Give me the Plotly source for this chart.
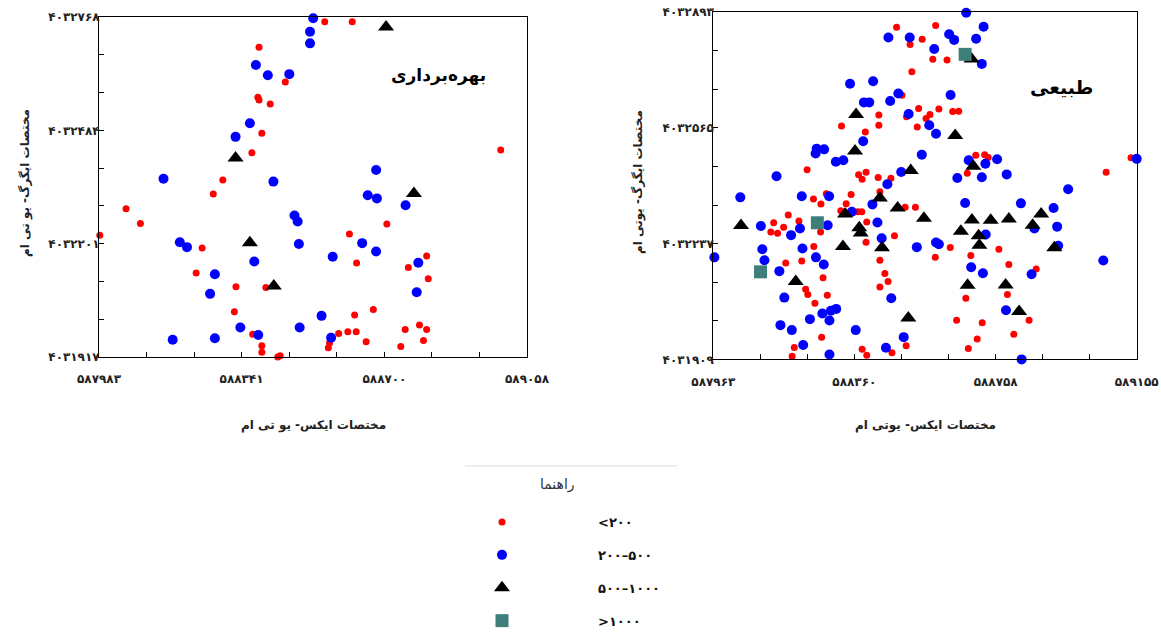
import numpy as np
import plotly.graph_objects as go

# ---------------- Left panel (بهره‌برداری) ----------------
L_red_x = [588385, 588451, 588382, 588385, 588413, 588392, 588367, 588294, 588270, 588051,
           588087, 587985, 588242, 588227, 588327, 588402, 588323, 588369, 588392, 588392,
           588432, 588438, 588550, 588619, 588992, 589061, 588706, 588612, 588630, 588806,
           588760, 588810, 588625, 588672, 588788, 588752, 588806, 588585, 588608, 588629,
           588654, 588798, 588741, 588559, 588562]
L_red_y = [4032692, 4032605, 4032567, 4032560, 4032550, 4032477, 4032428, 4032360, 4032325, 4032288,
           4032251, 4032222, 4032190, 4032127, 4032093, 4032091, 4032030, 4031974, 4031945, 4031929,
           4031917, 4031920, 4032756, 4032756, 4032435, 4032460, 4032250, 4032225, 4032152, 4032170,
           4032141, 4032113, 4032022, 4032036, 4031997, 4031986, 4031986, 4031976, 4031980, 4031980,
           4031955, 4031958, 4031943, 4031940, 4031952]

L_blue_x = [588521, 588513, 588513, 588377, 588407, 588461, 588362, 588326, 588145, 588421,
            588474, 588482, 588186, 588204, 588485, 588373, 588274, 588262, 588338, 588383,
            588487, 588168, 588274, 588679, 588658, 588681, 588753, 588644, 588679, 588570,
            588785, 588781, 588542, 588566]
L_blue_y = [4032765, 4032731, 4032702, 4032648, 4032622, 4032625, 4032502, 4032468, 4032363, 4032356,
            4032271, 4032256, 4032204, 4032192, 4032200, 4032156, 4032124, 4032075, 4031991, 4031972,
            4031991, 4031960, 4031964, 4032385, 4032322, 4032314, 4032297, 4032202, 4032181, 4032168,
            4032153, 4032079, 4032020, 4031965]

L_tri_x = [588326, 588362, 588422, 588704, 588774]
L_tri_y = [4032415, 4032203, 4032095, 4032743, 4032326]

# ---------------- Right panel (طبیعی) ----------------
R_red_x = [588324, 588227, 588245, 588266, 588281, 588351, 588337, 588322, 588174, 588204,
           588133, 588161, 588125, 588144, 588265, 588246, 588212, 588167, 588272, 588223,
           588229, 588249, 588284, 588268, 588191, 588185, 588479, 588589, 588517, 588551,
           588581, 588621, 588522, 588494, 588541, 588598, 588637, 588654, 588573, 588562,
           588507, 588429, 588429, 588537, 588391, 588702, 588727, 588737, 588678, 588372,
           588382, 588393, 588427, 588463, 588432, 588503, 588532, 588370, 588381, 588395,
           588393, 588473, 588630, 588688, 588588, 588432, 588446, 588455, 588432, 588767,
           588674, 588648, 588720, 588706, 588681, 588382, 588395, 588506, 588466, 589139,
           589069, 588795, 588872, 588791, 588852, 588809]
R_red_y = [4032570, 4032446, 4032363, 4032349, 4032378, 4032376, 4032350, 4032330, 4032318, 4032301,
           4032296, 4032283, 4032270, 4032266, 4032270, 4032229, 4032188, 4032182, 4032140, 4032108,
           4032093, 4032068, 4032091, 4031972, 4031943, 4031918, 4032850, 4032855, 4032801, 4032816,
           4032759, 4032757, 4032724, 4032657, 4032620, 4032618, 4032611, 4032612, 4032603, 4032591,
           4032596, 4032601, 4032572, 4032567, 4032553, 4032487, 4032489, 4032481, 4032436, 4032432,
           4032419, 4032439, 4032424, 4032422, 4032384, 4032340, 4032340, 4032327, 4032327, 4032298,
           4032241, 4032259, 4032226, 4032203, 4032198, 4032190, 4032152, 4032130, 4032114, 4032221,
           4032082, 4032020, 4032013, 4031967, 4031940, 4031938, 4031921, 4031948, 4031928, 4032480,
           4032439, 4032178, 4032165, 4032093, 4032020, 4031980]

R_blue_x = [588348, 588254, 588275, 588251, 588308, 588329, 588141, 588039, 588212, 588289,
            588097, 588182, 588207, 588285, 588101, 588107, 588214, 588252, 588274, 587966,
            588149, 588163, 588270, 588294, 588309, 588290, 588235, 588152, 588184, 588216,
            588290, 588675, 588724, 588456, 588516, 588627, 588641, 588703, 588585, 588719,
            588413, 588484, 588461, 588387, 588402, 588631, 588513, 588571, 588590, 588385,
            588550, 588682, 588729, 588762, 588650, 588719, 588492, 588453, 588411, 588353,
            588672, 588425, 588437, 588536, 588590, 588598, 588730, 588689, 588722, 588464,
            588364, 588499, 588449, 588789, 588962, 588829, 588921, 588931, 588867, 588934,
            588859, 589061, 588787, 588831, 589155]
R_blue_y = [4032690, 4032506, 4032504, 4032492, 4032469, 4032473, 4032428, 4032368, 4032371, 4032371,
            4032287, 4032261, 4032280, 4032289, 4032221, 4032190, 4032223, 4032198, 4032178, 4032198,
            4032159, 4032084, 4032039, 4032047, 4032052, 4032019, 4032023, 4032006, 4031992, 4031950,
            4031923, 4032891, 4032851, 4032821, 4032821, 4032830, 4032814, 4032817, 4032788, 4032746,
            4032697, 4032662, 4032641, 4032637, 4032637, 4032658, 4032604, 4032572, 4032548, 4032527,
            4032489, 4032473, 4032463, 4032476, 4032423, 4032425, 4032440, 4032405, 4032348, 4032327,
            4032352, 4032297, 4032252, 4032227, 4032240, 4032235, 4032263, 4032170, 4032153, 4032082,
            4031992, 4031972, 4031942, 4032433, 4032391, 4032351, 4032338, 4032285, 4032280, 4032231,
            4032150, 4032189, 4032048, 4031909, 4032477]

R_tri_x = [588041, 588195, 588334, 588328, 588365, 588362, 588519, 588695, 588644, 588432,
           588482, 588556, 588691, 588744, 588660, 588710, 588712, 588374, 588378, 588438,
           588679, 588512, 588690, 588795, 588886, 588862, 588923, 588786, 588824]
R_tri_y = [4032288, 4032130, 4032321, 4032229, 4032603, 4032499, 4032444, 4032456, 4032543, 4032366,
           4032338, 4032309, 4032304, 4032303, 4032272, 4032259, 4032232, 4032282, 4032267, 4032225,
           4032119, 4032026, 4032760, 4032307, 4032321, 4032289, 4032225, 4032120, 4032045]

R_sq_x = [588256, 588096, 588672]
R_sq_y = [4032296, 4032157, 4032773]

# ---------------- Axis tick labels ----------------
L_xticks = [587983, 588341, 588700, 589058]
L_xlabels = ["۵۸۷۹۸۳", "۵۸۸۳۴۱", "۵۸۸۷۰۰", "۵۸۹۰۵۸"]
L_yticks = [4031917, 4032201, 4032484, 4032768]
L_ylabels = ["۴۰۳۱۹۱۷", "۴۰۳۲۲۰۱", "۴۰۳۲۴۸۴", "۴۰۳۲۷۶۸"]
R_xticks = [587963, 588360, 588758, 589155]
R_xlabels = ["۵۸۷۹۶۳", "۵۸۸۳۶۰", "۵۸۸۷۵۸", "۵۸۹۱۵۵"]
R_yticks = [4031909, 4032237, 4032565, 4032893]
R_ylabels = ["۴۰۳۱۹۰۹", "۴۰۳۲۲۳۷", "۴۰۳۲۵۶۵", "۴۰۳۲۸۹۳"]

LRO, PDF = "\u202d", "\u202c"
classes = [LRO + "&lt;۲۰۰" + PDF, LRO + "۲۰۰–۵۰۰" + PDF,
           LRO + "۵۰۰–۱۰۰۰" + PDF, LRO + "&gt;۱۰۰۰" + PDF]
colors = ["#ff0000", "#0000ff", "#000000", "#3f7f7b"]
symbols = ["circle", "circle", "triangle-up", "square"]
sizes = [7, 10, 14, 13]

FONT = "DejaVu Sans"

# body margin is removed in the page (post_script), so figure pixels == page pixels
W, H = 1161, 644


def PX(p):
    return p / W


def PY(p):
    return (H - p) / H


fig = go.Figure()


def add(xs, ys, k, axis, show):
    fig.add_trace(go.Scatter(
        x=xs, y=ys, mode="markers", name=classes[k], legendgroup="g%d" % k,
        legendrank=k + 1, showlegend=show,
        marker=dict(color=colors[k], symbol=symbols[k], size=sizes[k], line=dict(width=0)),
        xaxis="x" if axis == 1 else "x2", yaxis="y" if axis == 1 else "y2",
        cliponaxis=False, hoverinfo="skip"))


add(L_red_x, L_red_y, 0, 1, False)
add(L_blue_x, L_blue_y, 1, 1, False)
add(L_tri_x, L_tri_y, 2, 1, False)
add(R_red_x, R_red_y, 0, 2, True)
add(R_blue_x, R_blue_y, 1, 2, True)
add(R_tri_x, R_tri_y, 2, 2, True)
add(R_sq_x, R_sq_y, 3, 2, True)


def minor_vals(ticks):
    vals = np.linspace(ticks[0], ticks[-1], 10)
    return [float(v) for i, v in enumerate(vals) if i % 3 != 0]


def axis(ticks, labels, dom, anchor, standoff):
    return dict(domain=dom, anchor=anchor, range=[ticks[0], ticks[-1]], automargin=False,
                showline=True, linecolor="black", linewidth=1, mirror=True,
                showgrid=False, zeroline=False,
                tickmode="array", tickvals=ticks, ticktext=labels, ticks="inside",
                ticklen=5, tickcolor="black", ticklabelstandoff=standoff,
                ticklabeloverflow="allow",
                minor=dict(tickmode="array", tickvals=minor_vals(ticks), ticks="inside",
                           ticklen=5, tickcolor="black", showgrid=False),
                tickfont=dict(family=FONT, size=12, color="#222", weight="bold"))


fig.update_layout(
    width=W, height=H, margin=dict(l=0, r=0, t=0, b=0, autoexpand=False),
    paper_bgcolor="white", plot_bgcolor="white",
    xaxis=axis(L_xticks, L_xlabels, [PX(99), PX(527)], "y", 11),
    yaxis=axis(L_yticks, L_ylabels, [PY(357), PY(17)], "x", -4),
    xaxis2=axis(R_xticks, R_xlabels, [PX(713.3), PX(1136.7)], "y2", 11),
    yaxis2=axis(R_yticks, R_ylabels, [PY(359.4), PY(12)], "x2", -4),
    showlegend=True,
    legend=dict(x=PX(406), y=PY(507), xanchor="left", yanchor="top",
                itemwidth=182, tracegroupgap=13, traceorder="grouped",
                font=dict(family=FONT, size=13, color="#111", weight="bold"),
                bgcolor="rgba(0,0,0,0)"),
)

ann = [
    dict(text="مختصات ایکس- یو تی ام", x=PX(313), y=PY(425)),
    dict(text="مختصات ایکس- یوتی ام", x=PX(925), y=PY(425)),
    dict(text="مختصات ایگرگ- یو تی ام", x=PX(25), y=PY(183), textangle=-90),
    dict(text="مختصات ایگرگ- یوتی ام", x=PX(638), y=PY(182), textangle=-90),
]
for a in ann:
    fig.add_annotation(xref="paper", yref="paper", showarrow=False,
                       xanchor="center", yanchor="middle",
                       font=dict(family=FONT, size=12, color="#222", weight="bold"), **a)

fig.add_annotation(text="راهنما", xref="paper", yref="paper", x=PX(557), y=PY(485),
                   showarrow=False, xanchor="center", yanchor="middle",
                   font=dict(family=FONT, size=14, color="#333"))
fig.add_annotation(text="بهره‌برداری", xref="paper", yref="paper", x=PX(438), y=PY(75),
                   showarrow=False, xanchor="center", yanchor="middle",
                   font=dict(family=FONT, size=17, color="black", weight="bold"))
fig.add_annotation(text="طبیعی", xref="paper", yref="paper", x=PX(1061), y=PY(87),
                   showarrow=False, xanchor="center", yanchor="middle",
                   font=dict(family=FONT, size=19, color="black", weight="bold"))

fig.add_shape(type="line", xref="paper", yref="paper", x0=PX(465), x1=PX(677),
              y0=PY(466), y1=PY(466), line=dict(color="#eeeeee", width=2))

fig.write_html("out.html",
               config={"displayModeBar": False},
               post_script="document.body.style.margin='0px';"
                           "document.body.style.overflow='hidden';")
